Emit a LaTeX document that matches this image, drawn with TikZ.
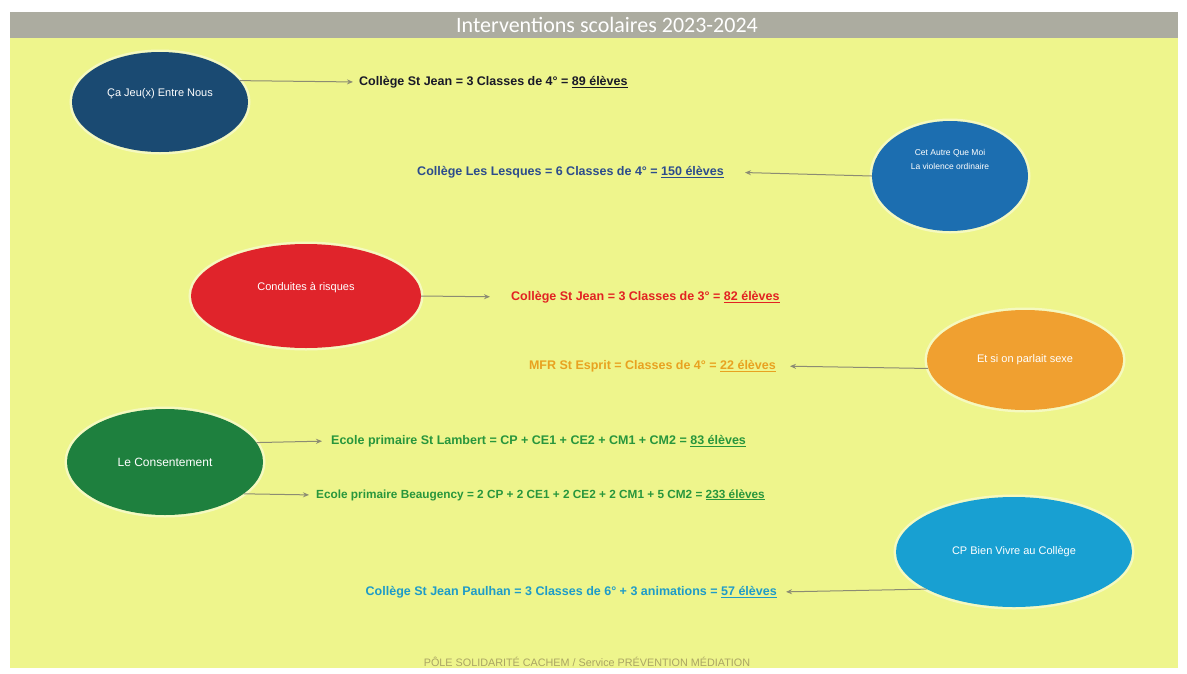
\documentclass[tikz,border=0pt]{standalone}
\usepackage{fontspec}
\setmainfont{Liberation Sans}
\newfontfamily\titlefont{Carlito}
\usetikzlibrary{arrows.meta,shapes.geometric}
\definecolor{bgyellow}{RGB}{238,245,140}
\definecolor{bargray}{RGB}{172,172,160}
\definecolor{cDarkBlue}{RGB}{26,74,114}
\definecolor{cBlue}{RGB}{28,110,176}
\definecolor{cRed}{RGB}{224,36,43}
\definecolor{cOrange}{RGB}{240,160,48}
\definecolor{cGreen}{RGB}{30,128,62}
\definecolor{cCyan}{RGB}{24,160,210}
\definecolor{tBlack}{RGB}{25,25,40}
\definecolor{tBlue}{RGB}{44,76,140}
\definecolor{tRed}{RGB}{226,34,34}
\definecolor{tOrange}{RGB}{232,162,32}
\definecolor{tGreen}{RGB}{40,150,60}
\definecolor{tCyan}{RGB}{30,155,200}
\definecolor{footgray}{RGB}{170,165,100}
\definecolor{conngray}{RGB}{140,140,115}
\begin{document}
\begin{tikzpicture}[x=1pt,y=-1pt,
  bubble/.style={ellipse, inner sep=0pt, text=white, align=center,
    font=\fontsize{11}{13}\selectfont,
    preaction={draw=white, line width=5pt, opacity=0.45}},
  info/.style={inner sep=1pt, font=\bfseries\fontsize{12.5}{14}\selectfont},
  conn/.style={draw=conngray, line width=1pt, -{Stealth[length=6pt,width=5pt]}},
  titlestyle/.style={text=white, font=\titlefont\fontsize{22}{24}\selectfont, inner sep=0pt},
  footstyle/.style={text=footgray, font=\fontsize{10.8}{12}\selectfont, inner sep=0pt}
]
\useasboundingbox (0,0) rectangle (1187,673);
\fill[white] (0,0) rectangle (1187,673);
\fill[bgyellow] (10,38) rectangle (1178,668);
\fill[bargray] (10,12) rectangle (1178,38);
\node[titlestyle] (title) at (607,25) {Interventions scolaires 2023-2024};

% ellipses
\node[bubble, fill=cDarkBlue, minimum width=176, minimum height=100] (e1) at (160,102) {Ça Jeu(x) Entre Nous\\[6pt]};
\node[bubble, fill=cBlue, minimum width=156, minimum height=110, font=\fontsize{8.5}{14}\selectfont] (e2) at (950,176) {Cet Autre Que Moi\\La violence ordinaire\\[20pt]};
\node[bubble, fill=cRed, minimum width=230, minimum height=104] (e3) at (306,296) {Conduites à risques\\[6pt]};
\node[bubble, fill=cOrange, minimum width=196, minimum height=100] (e4) at (1025,360) {Et si on parlait sexe};
\node[bubble, fill=cGreen, minimum width=196, minimum height=106, font=\fontsize{12}{14}\selectfont] (e5) at (165,462) {Le Consentement};
\node[bubble, fill=cCyan, minimum width=236, minimum height=110] (e6) at (1014,552) {CP Bien Vivre au Collège};

% texts
\node[info, anchor=west, text=tBlack] (t1) at (358,82) {Collège St Jean = 3 Classes de 4° = \underline{89 élèves}};
\node[info, anchor=east, text=tBlue] (t2) at (725,172) {Collège Les Lesques = 6 Classes de 4° = \underline{150 élèves}};
\node[info, anchor=west, text=tRed] (t3) at (510,297) {Collège St Jean = 3 Classes de 3° = \underline{82 élèves}};
\node[info, anchor=east, text=tOrange] (t4) at (777,366) {MFR St Esprit = Classes de 4° = \underline{22 élèves}};
\node[info, anchor=west, text=tGreen] (t5) at (330,441) {Ecole primaire St Lambert = CP + CE1 + CE2 + CM1 + CM2 = \underline{83 élèves}};
\node[info, anchor=west, text=tGreen, font=\bfseries\fontsize{11.8}{14}\selectfont] (t6) at (315,495) {Ecole primaire Beaugency = 2 CP + 2 CE1 + 2 CE2 + 2 CM1 + 5 CM2 = \underline{233 élèves}};
\node[info, anchor=east, text=tCyan] (t7) at (778,592) {Collège St Jean Paulhan = 3 Classes de 6° + 3 animations = \underline{57 élèves}};

% connectors
\draw[conn, shorten >=5pt] (e1.15) -- (t1.west);
\draw[conn, shorten >=20pt] (e2.west) -- (t2.east);
\draw[conn, shorten >=20pt] (e3.east) -- (t3.west);
\draw[conn, shorten >=13pt] (e4.185) -- (t4.east);
\draw[conn, shorten >=8pt] (e5.12) -- (t5.west);
\draw[conn, shorten >=6pt] (e5.-22) -- (t6.west);
\draw[conn, shorten >=8pt] (e6.203) -- (t7.east);

\node[footstyle] (foot) at (587,662) {PÔLE SOLIDARITÉ CACHEM / Service PRÉVENTION MÉDIATION};
\end{tikzpicture}
\end{document}
